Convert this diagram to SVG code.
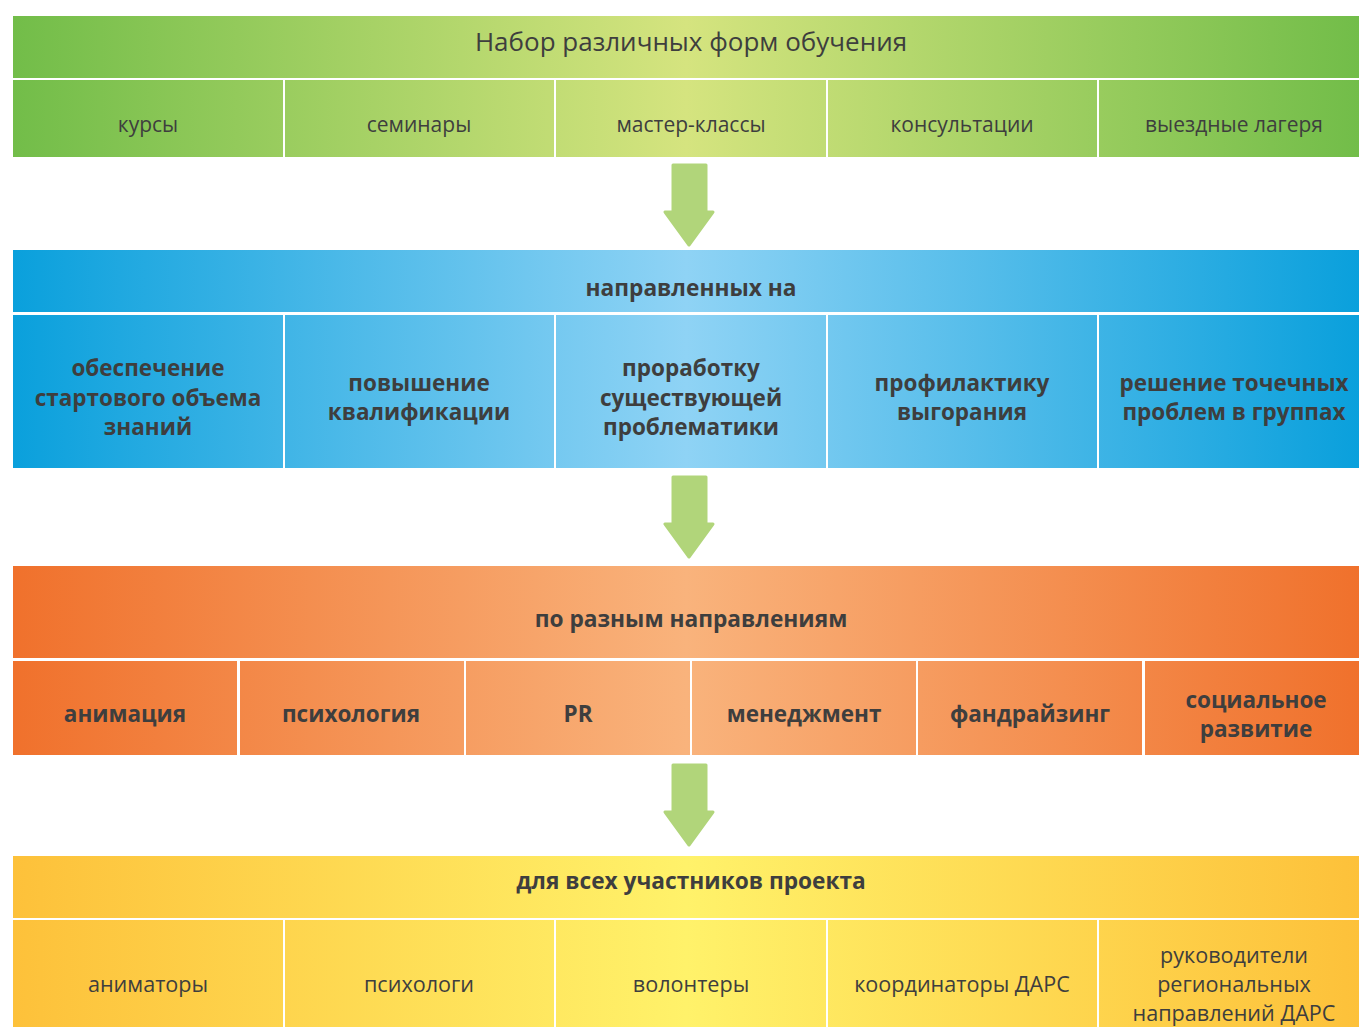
<svg xmlns="http://www.w3.org/2000/svg" width="1359" height="1027" viewBox="0 0 1359 1027">
<style>
text{font-family:"Open Sans","Noto Sans","DejaVu Sans",sans-serif;fill:#3e3e3e;text-anchor:middle}
.h1{font-size:26px}
.c1{font-size:21px}
.hb{font-size:22.7px;font-weight:bold}
.cb{font-size:22.5px;font-weight:bold}
.c4{font-size:21.6px}
.arrow{fill:#b1d57a;stroke:#b1d57a;stroke-width:3;stroke-linejoin:round}
</style>
<defs>
<linearGradient id="gG" gradientUnits="userSpaceOnUse" x1="13" y1="0" x2="1359" y2="0">
<stop offset="0" stop-color="#72bd49"/><stop offset="0.5" stop-color="#d5e47f"/><stop offset="1" stop-color="#72bd49"/>
</linearGradient>
<linearGradient id="gB" gradientUnits="userSpaceOnUse" x1="13" y1="0" x2="1359" y2="0">
<stop offset="0" stop-color="#0aa0dc"/><stop offset="0.5" stop-color="#8fd3f5"/><stop offset="1" stop-color="#0aa0dc"/>
</linearGradient>
<linearGradient id="gO" gradientUnits="userSpaceOnUse" x1="13" y1="0" x2="1359" y2="0">
<stop offset="0" stop-color="#f0712c"/><stop offset="0.5" stop-color="#f9b37c"/><stop offset="1" stop-color="#f0712c"/>
</linearGradient>
<linearGradient id="gY" gradientUnits="userSpaceOnUse" x1="13" y1="0" x2="1359" y2="0">
<stop offset="0" stop-color="#fdc13a"/><stop offset="0.5" stop-color="#fff26a"/><stop offset="1" stop-color="#fdc13a"/>
</linearGradient>
</defs>
<rect width="1359" height="1027" fill="#ffffff"/>

<g id="band1">
<g id="b1-header"><rect x="13" y="16" width="1346" height="62" fill="url(#gG)"/><text class="h1" x="691" y="51">Набор различных форм обучения</text></g>
<g id="b1-c1"><rect x="13" y="80" width="270" height="77" fill="url(#gG)"/><text class="c1" x="148" y="132">курсы</text></g>
<g id="b1-c2"><rect x="285" y="80" width="269" height="77" fill="url(#gG)"/><text class="c1" x="419" y="132">семинары</text></g>
<g id="b1-c3"><rect x="556" y="80" width="270" height="77" fill="url(#gG)"/><text class="c1" x="691" y="132">мастер-классы</text></g>
<g id="b1-c4"><rect x="828" y="80" width="269" height="77" fill="url(#gG)"/><text class="c1" x="962" y="132">консультации</text></g>
<g id="b1-c5"><rect x="1099" y="80" width="260" height="77" fill="url(#gG)"/><text class="c1" x="1234" y="132">выездные лагеря</text></g>
</g>

<g id="band2">
<g id="b2-header"><rect x="13" y="250" width="1346" height="62" fill="url(#gB)"/><text class="hb" x="691" y="296">направленных на</text></g>
<g id="b2-c1"><rect x="13" y="315" width="270" height="153" fill="url(#gB)"/><text class="cb" x="148" y="376">обеспечение</text><text class="cb" x="148" y="406">стартового объема</text><text class="cb" x="148" y="435">знаний</text></g>
<g id="b2-c2"><rect x="285" y="315" width="269" height="153" fill="url(#gB)"/><text class="cb" x="419" y="391">повышение</text><text class="cb" x="419" y="420">квалификации</text></g>
<g id="b2-c3"><rect x="556" y="315" width="270" height="153" fill="url(#gB)"/><text class="cb" x="691" y="376">проработку</text><text class="cb" x="691" y="406">существующей</text><text class="cb" x="691" y="435">проблематики</text></g>
<g id="b2-c4"><rect x="828" y="315" width="269" height="153" fill="url(#gB)"/><text class="cb" x="962" y="391">профилактику</text><text class="cb" x="962" y="420">выгорания</text></g>
<g id="b2-c5"><rect x="1099" y="315" width="260" height="153" fill="url(#gB)"/><text class="cb" x="1234" y="391">решение точечных</text><text class="cb" x="1234" y="420">проблем в группах</text></g>
</g>

<g id="band3">
<g id="b3-header"><rect x="13" y="566" width="1346" height="92" fill="url(#gO)"/><text class="hb" x="691" y="627">по разным направлениям</text></g>
<g id="b3-c1"><rect x="13" y="661" width="224" height="94" fill="url(#gO)"/><text class="cb" x="125" y="722">анимация</text></g>
<g id="b3-c2"><rect x="240" y="661" width="224" height="94" fill="url(#gO)"/><text class="cb" x="351" y="722">психология</text></g>
<g id="b3-c3"><rect x="466" y="661" width="224" height="94" fill="url(#gO)"/><text class="cb" x="578" y="722">PR</text></g>
<g id="b3-c4"><rect x="692" y="661" width="224" height="94" fill="url(#gO)"/><text class="cb" x="804" y="722">менеджмент</text></g>
<g id="b3-c5"><rect x="918" y="661" width="224" height="94" fill="url(#gO)"/><text class="cb" x="1030" y="722">фандрайзинг</text></g>
<g id="b3-c6"><rect x="1145" y="661" width="214" height="94" fill="url(#gO)"/><text class="cb" x="1256" y="708">социальное</text><text class="cb" x="1256" y="737">развитие</text></g>
</g>

<g id="band4">
<g id="b4-header"><rect x="13" y="856" width="1346" height="62" fill="url(#gY)"/><text class="hb" x="691" y="889">для всех участников проекта</text></g>
<g id="b4-c1"><rect x="13" y="920" width="270" height="107" fill="url(#gY)"/><text class="c4" x="148" y="992">аниматоры</text></g>
<g id="b4-c2"><rect x="285" y="920" width="269" height="107" fill="url(#gY)"/><text class="c4" x="419" y="992">психологи</text></g>
<g id="b4-c3"><rect x="556" y="920" width="270" height="107" fill="url(#gY)"/><text class="c4" x="691" y="992">волонтеры</text></g>
<g id="b4-c4"><rect x="828" y="920" width="269" height="107" fill="url(#gY)"/><text class="c4" x="962" y="992">координаторы ДАРС</text></g>
<g id="b4-c5"><rect x="1099" y="920" width="260" height="107" fill="url(#gY)"/><text class="c4" x="1234" y="963">руководители</text><text class="c4" x="1234" y="992">региональных</text><text class="c4" x="1234" y="1021">направлений ДАРС</text></g>
</g>

<g id="connectors">
<path class="arrow" d="M673,165 H706 V212 H713 L689,245 L665,212 H673 Z"/>
<path class="arrow" d="M673,477 H706 V524 H713 L689,557 L665,524 H673 Z"/>
<path class="arrow" d="M673,765 H706 V812 H713 L689,845 L665,812 H673 Z"/>
</g>
</svg>
